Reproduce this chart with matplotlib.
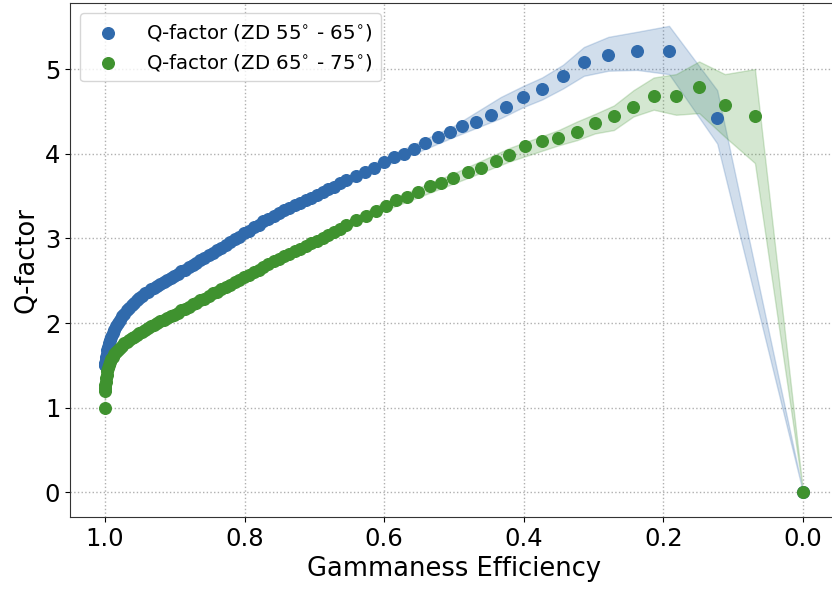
import matplotlib
matplotlib.use("Agg")
import matplotlib.pyplot as plt

# ---- data: ZD 55-65 ----
eff_55 = [1.0000, 0.9998, 0.9995, 0.9990, 0.9984, 0.9976, 0.9966, 0.9954, 0.9940, 0.9924,
          0.9906, 0.9886, 0.9864, 0.9840, 0.9814, 0.9786, 0.9756, 0.9724, 0.9690, 0.9655,
          0.9619, 0.9582, 0.9544, 0.9505, 0.9465, 0.9424, 0.9382, 0.9339, 0.9295, 0.9250,
          0.9204, 0.9157, 0.9109, 0.9060, 0.9010, 0.8959, 0.8907, 0.8854, 0.8800, 0.8745,
          0.8689, 0.8632, 0.8574, 0.8515, 0.8455, 0.8394, 0.8332, 0.8269, 0.8205, 0.8140,
          0.8074, 0.8007, 0.7939, 0.7870, 0.7800, 0.7729, 0.7657, 0.7584, 0.7510, 0.7435,
          0.7359, 0.7282, 0.7204, 0.7125, 0.7045, 0.6964, 0.6882, 0.6799, 0.6715, 0.6630,
          0.6544, 0.640, 0.627, 0.615, 0.600, 0.586, 0.572, 0.557, 0.542, 0.523,
          0.506, 0.488, 0.468, 0.447, 0.425, 0.401, 0.374, 0.344, 0.314, 0.279,
          0.238, 0.192, 0.123, 0.000]
q_55 = [1.50, 1.51, 1.53, 1.56, 1.60, 1.64, 1.68, 1.72, 1.76, 1.80,
        1.84, 1.88, 1.92, 1.96, 2.00, 2.04, 2.08, 2.11, 2.15, 2.18,
        2.21, 2.24, 2.27, 2.30, 2.32, 2.35, 2.37, 2.40, 2.42, 2.44,
        2.46, 2.48, 2.51, 2.53, 2.56, 2.58, 2.61, 2.63, 2.66, 2.69,
        2.71, 2.74, 2.77, 2.80, 2.83, 2.86, 2.89, 2.92, 2.96, 2.99,
        3.02, 3.06, 3.09, 3.13, 3.16, 3.20, 3.23, 3.26, 3.30, 3.33,
        3.36, 3.39, 3.42, 3.45, 3.48, 3.51, 3.55, 3.58, 3.61, 3.65,
        3.69, 3.74, 3.79, 3.83, 3.90, 3.96, 4.00, 4.06, 4.13, 4.20,
        4.26, 4.33, 4.37, 4.46, 4.55, 4.67, 4.77, 4.92, 5.08, 5.17,
        5.21, 5.21, 4.42, 0.00]
band_eff_55 = [1.000, 0.990, 0.970, 0.950, 0.900, 0.850, 0.800, 0.700, 0.600, 0.500,
               0.433, 0.401, 0.374, 0.344, 0.314, 0.279, 0.238, 0.192, 0.123, 0.000]
band_lo_55 = [1.48, 1.81, 2.11, 2.26, 2.53, 2.77, 3.01, 3.45, 3.85, 4.20,
              4.42, 4.55, 4.64, 4.77, 4.92, 4.98, 4.99, 4.94, 4.12, 0.00]
band_hi_55 = [1.52, 1.87, 2.17, 2.33, 2.60, 2.86, 3.10, 3.54, 3.95, 4.33,
              4.67, 4.80, 4.90, 5.05, 5.26, 5.38, 5.44, 5.51, 4.75, 0.00]

# ---- data: ZD 65-75 ----
eff_65 = [1.0000, 0.9999, 0.9997, 0.9994, 0.9990, 0.9984, 0.9976, 0.9966, 0.9954, 0.9940,
          0.9924, 0.9906, 0.9886, 0.9864, 0.9840, 0.9814, 0.9786, 0.9756, 0.9724, 0.9690,
          0.9655, 0.9619, 0.9582, 0.9544, 0.9505, 0.9465, 0.9424, 0.9382, 0.9339, 0.9295,
          0.9250, 0.9204, 0.9157, 0.9109, 0.9060, 0.9010, 0.8959, 0.8907, 0.8854, 0.8800,
          0.8745, 0.8689, 0.8632, 0.8574, 0.8515, 0.8455, 0.8394, 0.8332, 0.8269, 0.8205,
          0.8140, 0.8074, 0.8007, 0.7939, 0.7870, 0.7800, 0.7729, 0.7657, 0.7584, 0.7510,
          0.7435, 0.7359, 0.7282, 0.7204, 0.7125, 0.7045, 0.6964, 0.6882, 0.6799, 0.6715,
          0.6630, 0.6544, 0.640, 0.626, 0.612, 0.598, 0.583, 0.568, 0.551, 0.535,
          0.518, 0.501, 0.480, 0.462, 0.440, 0.421, 0.398, 0.374, 0.351, 0.324,
          0.298, 0.271, 0.243, 0.214, 0.182, 0.149, 0.112, 0.069, 0.000]
q_65 = [1.00, 1.20, 1.23, 1.27, 1.31, 1.35, 1.39, 1.43, 1.47, 1.51,
        1.54, 1.57, 1.60, 1.63, 1.66, 1.68, 1.71, 1.73, 1.76, 1.78,
        1.80, 1.82, 1.84, 1.86, 1.88, 1.90, 1.92, 1.94, 1.96, 1.98,
        2.00, 2.02, 2.04, 2.06, 2.08, 2.10, 2.12, 2.15, 2.17, 2.19,
        2.22, 2.24, 2.27, 2.29, 2.32, 2.35, 2.37, 2.40, 2.43, 2.45,
        2.48, 2.51, 2.54, 2.57, 2.60, 2.63, 2.66, 2.70, 2.73, 2.76,
        2.79, 2.82, 2.85, 2.88, 2.91, 2.94, 2.97, 3.00, 3.04, 3.07,
        3.11, 3.16, 3.22, 3.27, 3.32, 3.38, 3.45, 3.49, 3.55, 3.62,
        3.66, 3.71, 3.79, 3.83, 3.91, 3.99, 4.09, 4.15, 4.19, 4.26,
        4.36, 4.44, 4.55, 4.68, 4.68, 4.79, 4.57, 4.45, 0.00]
band_eff_65 = [1.000, 0.9999, 0.990, 0.970, 0.950, 0.900, 0.850, 0.800, 0.700, 0.600,
               0.500, 0.420, 0.350, 0.324, 0.298, 0.271, 0.243, 0.214, 0.182, 0.149,
               0.112, 0.069, 0.000]
band_lo_65 = [0.98, 1.18, 1.54, 1.73, 1.84, 2.06, 2.29, 2.51, 2.92, 3.33,
              3.65, 3.91, 4.10, 4.16, 4.24, 4.28, 4.44, 4.52, 4.46, 4.48,
              4.20, 3.89, 0.00]
band_hi_65 = [1.02, 1.22, 1.60, 1.79, 1.91, 2.14, 2.37, 2.59, 3.01, 3.43,
              3.77, 4.07, 4.28, 4.38, 4.47, 4.57, 4.75, 4.90, 4.94, 5.09,
              4.94, 5.00, 0.00]

labels = [r"Q-factor (ZD 55$^{\circ}$ - 65$^{\circ}$)",
          r"Q-factor (ZD 65$^{\circ}$ - 75$^{\circ}$)"]
colors = ["#306aac", "#3f922f"]

fig = plt.figure(figsize=(8.32, 5.90), dpi=100)
ax = fig.add_axes([70 / 832, 73 / 590, 768 / 832, 514 / 590])

ax.fill_between(band_eff_55, band_lo_55, band_hi_55, color=colors[0], alpha=0.22, linewidth=1)
ax.fill_between(band_eff_65, band_lo_65, band_hi_65, color=colors[1], alpha=0.22, linewidth=1)
ax.scatter(eff_55, q_55, s=70, color=colors[0], label=labels[0], zorder=3)
ax.scatter(eff_65, q_65, s=70, color=colors[1], label=labels[1], zorder=3)

ax.set_xlim(1.05, -0.05)
ax.set_ylim(-0.29, 5.78)
ax.set_xticks([1.0, 0.8, 0.6, 0.4, 0.2, 0.0])
ax.set_yticks([0, 1, 2, 3, 4, 5])
ax.tick_params(labelsize=17.5)
ax.grid(True, linestyle=":", color="#b0b0b0", linewidth=1)
ax.set_axisbelow(True)
ax.set_xlabel("Gammaness Efficiency", fontsize=18.5)
ax.set_ylabel("Q-factor", fontsize=18.5)
for sp in ax.spines.values():
    sp.set_color("#333333")
ax.legend(loc="upper left", fontsize=14.2, borderpad=0.45, handletextpad=0.9,
          labelspacing=0.45)

fig.savefig("out.png", dpi=100)
